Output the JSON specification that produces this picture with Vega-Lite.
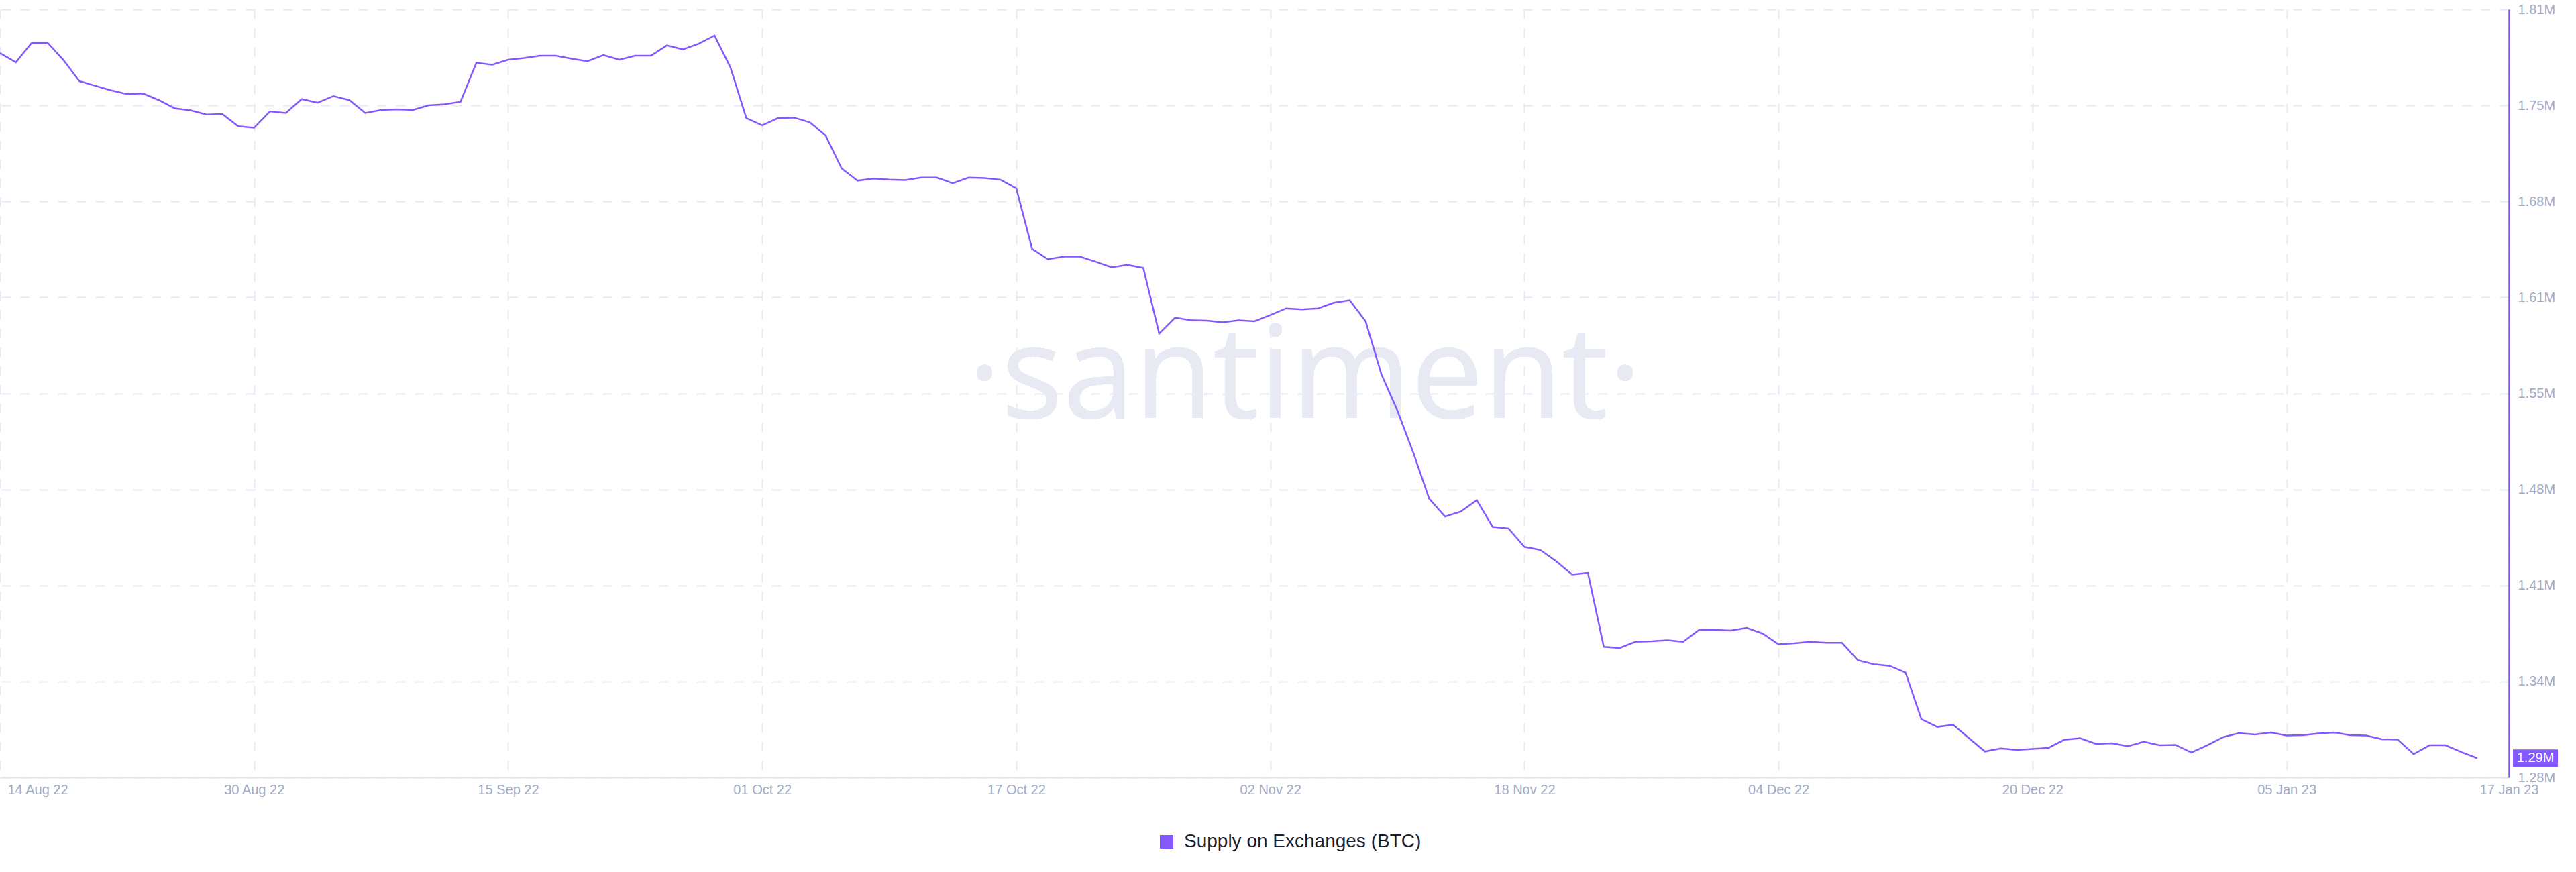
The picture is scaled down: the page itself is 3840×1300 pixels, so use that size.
{
  "$schema": "https://vega.github.io/schema/vega-lite/v6.json",
  "width": 3740,
  "height": 1145,
  "autosize": {"type": "none"},
  "padding": {"left": 0, "top": 14, "right": 100, "bottom": 141},
  "background": "#ffffff",
  "config": {
    "view": {"stroke": null},
    "font": "Liberation Sans"
  },
  "data": {"values": [
    {"date": "2022-08-14", "value": 1779900}, {"date": "2022-08-15", "value": 1773500}, {"date": "2022-08-16", "value": 1787000},
    {"date": "2022-08-17", "value": 1787000}, {"date": "2022-08-18", "value": 1775000}, {"date": "2022-08-19", "value": 1760500},
    {"date": "2022-08-20", "value": 1757300}, {"date": "2022-08-21", "value": 1754100}, {"date": "2022-08-22", "value": 1751600},
    {"date": "2022-08-23", "value": 1752000}, {"date": "2022-08-24", "value": 1747400}, {"date": "2022-08-25", "value": 1741700},
    {"date": "2022-08-26", "value": 1740300}, {"date": "2022-08-27", "value": 1737500}, {"date": "2022-08-28", "value": 1737800},
    {"date": "2022-08-29", "value": 1729300}, {"date": "2022-08-30", "value": 1728300}, {"date": "2022-08-31", "value": 1739600},
    {"date": "2022-09-01", "value": 1738500}, {"date": "2022-09-02", "value": 1748100}, {"date": "2022-09-03", "value": 1745600},
    {"date": "2022-09-04", "value": 1750200}, {"date": "2022-09-05", "value": 1747400}, {"date": "2022-09-06", "value": 1738500},
    {"date": "2022-09-07", "value": 1740600}, {"date": "2022-09-08", "value": 1741000}, {"date": "2022-09-09", "value": 1740600},
    {"date": "2022-09-10", "value": 1743800}, {"date": "2022-09-11", "value": 1744500}, {"date": "2022-09-12", "value": 1746300},
    {"date": "2022-09-13", "value": 1773200}, {"date": "2022-09-14", "value": 1771800}, {"date": "2022-09-15", "value": 1775300},
    {"date": "2022-09-16", "value": 1776400}, {"date": "2022-09-17", "value": 1778100}, {"date": "2022-09-18", "value": 1778100},
    {"date": "2022-09-19", "value": 1776000}, {"date": "2022-09-20", "value": 1774300}, {"date": "2022-09-21", "value": 1778500},
    {"date": "2022-09-22", "value": 1775300}, {"date": "2022-09-23", "value": 1778100}, {"date": "2022-09-24", "value": 1778100},
    {"date": "2022-09-25", "value": 1785200}, {"date": "2022-09-26", "value": 1782400}, {"date": "2022-09-27", "value": 1786300},
    {"date": "2022-09-28", "value": 1792000}, {"date": "2022-09-29", "value": 1770000}, {"date": "2022-09-30", "value": 1735000},
    {"date": "2022-10-01", "value": 1730000}, {"date": "2022-10-02", "value": 1735000}, {"date": "2022-10-03", "value": 1735300},
    {"date": "2022-10-04", "value": 1732100}, {"date": "2022-10-05", "value": 1722900}, {"date": "2022-10-06", "value": 1700300},
    {"date": "2022-10-07", "value": 1691800}, {"date": "2022-10-08", "value": 1693200}, {"date": "2022-10-09", "value": 1692500},
    {"date": "2022-10-10", "value": 1692200}, {"date": "2022-10-11", "value": 1693900}, {"date": "2022-10-12", "value": 1693900},
    {"date": "2022-10-13", "value": 1690000}, {"date": "2022-10-14", "value": 1693900}, {"date": "2022-10-15", "value": 1693600},
    {"date": "2022-10-16", "value": 1692500}, {"date": "2022-10-17", "value": 1686500}, {"date": "2022-10-18", "value": 1644700},
    {"date": "2022-10-19", "value": 1637600}, {"date": "2022-10-20", "value": 1639400}, {"date": "2022-10-21", "value": 1639400},
    {"date": "2022-10-22", "value": 1635900}, {"date": "2022-10-23", "value": 1632000}, {"date": "2022-10-24", "value": 1633800},
    {"date": "2022-10-25", "value": 1631600}, {"date": "2022-10-26", "value": 1586300}, {"date": "2022-10-27", "value": 1597300},
    {"date": "2022-10-28", "value": 1595500}, {"date": "2022-10-29", "value": 1595200}, {"date": "2022-10-30", "value": 1594100},
    {"date": "2022-10-31", "value": 1595500}, {"date": "2022-11-01", "value": 1594800}, {"date": "2022-11-02", "value": 1599100},
    {"date": "2022-11-03", "value": 1603700}, {"date": "2022-11-04", "value": 1603000}, {"date": "2022-11-05", "value": 1603700},
    {"date": "2022-11-06", "value": 1607600}, {"date": "2022-11-07", "value": 1609300}, {"date": "2022-11-08", "value": 1594800},
    {"date": "2022-11-09", "value": 1558000}, {"date": "2022-11-10", "value": 1533200}, {"date": "2022-11-11", "value": 1504200},
    {"date": "2022-11-12", "value": 1472400}, {"date": "2022-11-13", "value": 1460000}, {"date": "2022-11-14", "value": 1463500},
    {"date": "2022-11-15", "value": 1471300}, {"date": "2022-11-16", "value": 1452900}, {"date": "2022-11-17", "value": 1451800},
    {"date": "2022-11-18", "value": 1439100}, {"date": "2022-11-19", "value": 1437000}, {"date": "2022-11-20", "value": 1429200},
    {"date": "2022-11-21", "value": 1420000}, {"date": "2022-11-22", "value": 1421100}, {"date": "2022-11-23", "value": 1370100},
    {"date": "2022-11-24", "value": 1369400}, {"date": "2022-11-25", "value": 1373600}, {"date": "2022-11-26", "value": 1374000},
    {"date": "2022-11-27", "value": 1374700}, {"date": "2022-11-28", "value": 1373600}, {"date": "2022-11-29", "value": 1381800},
    {"date": "2022-11-30", "value": 1381800}, {"date": "2022-12-01", "value": 1381400}, {"date": "2022-12-02", "value": 1383200},
    {"date": "2022-12-03", "value": 1379300}, {"date": "2022-12-04", "value": 1371900}, {"date": "2022-12-05", "value": 1372600},
    {"date": "2022-12-06", "value": 1373600}, {"date": "2022-12-07", "value": 1372900}, {"date": "2022-12-08", "value": 1372900},
    {"date": "2022-12-09", "value": 1360900}, {"date": "2022-12-10", "value": 1358100}, {"date": "2022-12-11", "value": 1357000},
    {"date": "2022-12-12", "value": 1352400}, {"date": "2022-12-13", "value": 1320200}, {"date": "2022-12-14", "value": 1314900},
    {"date": "2022-12-15", "value": 1316300}, {"date": "2022-12-16", "value": 1307100}, {"date": "2022-12-17", "value": 1297900},
    {"date": "2022-12-18", "value": 1300000}, {"date": "2022-12-19", "value": 1299000}, {"date": "2022-12-20", "value": 1299700},
    {"date": "2022-12-21", "value": 1300400}, {"date": "2022-12-22", "value": 1306000}, {"date": "2022-12-23", "value": 1307100},
    {"date": "2022-12-24", "value": 1303200}, {"date": "2022-12-25", "value": 1303600}, {"date": "2022-12-26", "value": 1301500},
    {"date": "2022-12-27", "value": 1304600}, {"date": "2022-12-28", "value": 1302200}, {"date": "2022-12-29", "value": 1302500},
    {"date": "2022-12-30", "value": 1297200}, {"date": "2022-12-31", "value": 1302200}, {"date": "2023-01-01", "value": 1307800},
    {"date": "2023-01-02", "value": 1310600}, {"date": "2023-01-03", "value": 1309600}, {"date": "2023-01-04", "value": 1311000},
    {"date": "2023-01-05", "value": 1308900}, {"date": "2023-01-06", "value": 1309200}, {"date": "2023-01-07", "value": 1310300},
    {"date": "2023-01-08", "value": 1311000}, {"date": "2023-01-09", "value": 1309200}, {"date": "2023-01-10", "value": 1308900},
    {"date": "2023-01-11", "value": 1306400}, {"date": "2023-01-12", "value": 1306100}, {"date": "2023-01-13", "value": 1296100},
    {"date": "2023-01-14", "value": 1302200}, {"date": "2023-01-15", "value": 1302200}, {"date": "2023-01-16", "value": 1297500},
    {"date": "2023-01-17", "value": 1293300}
  ]},
  "layer": [
    {
      "mark": {"type": "text", "text": "·santiment·", "font": "Open Sans", "fontSize": 192, "color": "#e7e9f3", "align": "center", "baseline": "alphabetic"},
      "encoding": {
        "x": {"datum": {"year": 2022, "month": 11, "date": 4, "hours": 4, "utc": true}, "type": "temporal"},
        "y": {"datum": 1528000, "type": "quantitative"}
      }
    },
    {
      "mark": {"type": "line", "strokeWidth": 2.5, "interpolate": "linear"},
      "encoding": {
        "x": {
          "field": "date", "type": "temporal",
          "scale": {"type": "utc", "domain": [{"year": 2022, "month": 8, "date": 14, "utc": true}, {"year": 2023, "month": 1, "date": 19, "utc": true}], "nice": false},
          "axis": {
            "title": null,
            "values": [
              {"year": 2022, "month": 8, "date": 14, "utc": true},
              {"year": 2022, "month": 8, "date": 30, "utc": true},
              {"year": 2022, "month": 9, "date": 15, "utc": true},
              {"year": 2022, "month": 10, "date": 1, "utc": true},
              {"year": 2022, "month": 10, "date": 17, "utc": true},
              {"year": 2022, "month": 11, "date": 2, "utc": true},
              {"year": 2022, "month": 11, "date": 18, "utc": true},
              {"year": 2022, "month": 12, "date": 4, "utc": true},
              {"year": 2022, "month": 12, "date": 20, "utc": true},
              {"year": 2023, "month": 1, "date": 5, "utc": true},
              {"year": 2023, "month": 1, "date": 19, "utc": true}
            ],
            "labelExpr": "datum.index == 1 ? '17 Jan 23' : utcFormat(datum.value, '%d %b %y')",
            "labelAlign": {"condition": {"test": "datum.index == 0", "value": "left"}, "value": "center"},
            "labelOffset": {"condition": {"test": "datum.index == 0", "value": 11}, "value": 0},
            "labelFont": "Liberation Sans",
            "labelFontSize": 20,
            "labelColor": "#9faac4",
            "labelPadding": 8,
            "labelOverlap": false,
            "labelFlush": false,
            "ticks": false,
            "domain": true,
            "domainColor": "#e3e6f0",
            "domainWidth": 2,
            "grid": true,
            "gridColor": "#e6e9f3",
            "gridWidth": 2,
            "gridDash": [14, 14]
          }
        },
        "y": {
          "field": "value", "type": "quantitative",
          "scale": {"domain": [1280000, 1810000], "nice": false, "zero": false},
          "axis": {
            "orient": "right",
            "title": null,
            "values": [1280000, 1346250, 1412500, 1478750, 1545000, 1611250, 1677500, 1743750, 1810000],
            "labelExpr": "['1.28M','1.34M','1.41M','1.48M','1.55M','1.61M','1.68M','1.75M','1.81M'][round((datum.value - 1280000) / 66250)]",
            "labelFont": "Liberation Sans",
            "labelFontSize": 20,
            "labelColor": "#9faac4",
            "labelPadding": 13,
            "labelFlush": false,
            "labelOverlap": false,
            "ticks": false,
            "domain": true,
            "domainColor": "#8358ff",
            "domainWidth": 2.5,
            "grid": true,
            "gridColor": "#e6e9f3",
            "gridWidth": 2,
            "gridDash": [14, 14]
          }
        },
        "stroke": {
          "datum": "Supply on Exchanges (BTC)", "type": "nominal",
          "scale": {"range": ["#8358ff"]},
          "legend": {
            "title": null,
            "orient": "none",
            "legendX": 1725,
            "legendY": 1227,
            "direction": "horizontal",
            "symbolType": "square",
            "symbolSize": 400,
            "labelFont": "Liberation Sans",
            "labelFontSize": 28,
            "labelColor": "#1c1d2e",
            "labelOffset": 12,
            "labelLimit": 0,
            "padding": 0,
            "encode": {"symbols": {"update": {"fill": {"value": "#8358ff"}, "stroke": {"value": "#8358ff"}, "strokeWidth": {"value": 0}}}}
          }
        }
      }
    },
    {
      "transform": [{"filter": "utcyear(datum.date) == 2023 && utcmonth(datum.date) == 0 && utcdate(datum.date) == 17"}],
      "mark": {"type": "point", "shape": "M-1,-0.388H1V0.388H-1Z", "size": 4489, "filled": true, "color": "#8358ff", "opacity": 1, "xOffset": 39.5},
      "encoding": {
        "x": {"datum": {"year": 2023, "month": 1, "date": 19, "utc": true}, "type": "temporal"},
        "y": {"field": "value", "type": "quantitative"}
      }
    },
    {
      "transform": [{"filter": "utcyear(datum.date) == 2023 && utcmonth(datum.date) == 0 && utcdate(datum.date) == 17"}],
      "mark": {"type": "text", "color": "#ffffff", "font": "Liberation Sans", "fontSize": 20, "align": "center", "baseline": "middle", "xOffset": 39.5},
      "encoding": {
        "x": {"datum": {"year": 2023, "month": 1, "date": 19, "utc": true}, "type": "temporal"},
        "y": {"field": "value", "type": "quantitative"},
        "text": {"field": "value", "type": "quantitative", "format": ".3s"}
      }
    }
  ]
}
